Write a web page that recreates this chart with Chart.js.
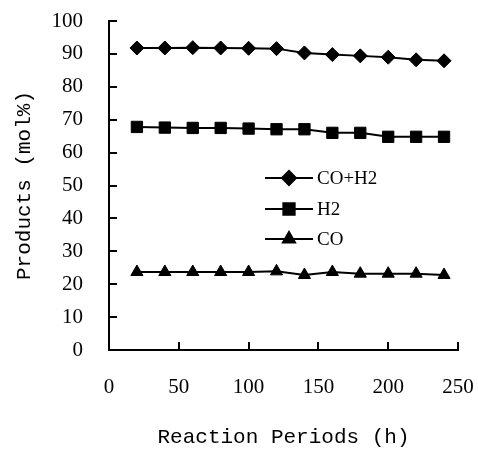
<!DOCTYPE html>
<html>
<head>
<meta charset="utf-8">
<script src="https://cdn.jsdelivr.net/npm/chart.js@4"></script>
<style>
  html, body { margin: 0; padding: 0; background: #fff; }
</style>
</head>
<body>
<canvas id="productsChart" width="478" height="450"></canvas>
<script>
// Data
let hours = [20, 40, 60, 80, 100, 120, 140, 160, 180, 200, 220, 240];
let coH2 = [91.8, 91.8, 91.9, 91.8, 91.7, 91.6, 90.3, 89.8, 89.4, 89.0, 88.2, 87.9];
let h2 = [67.8, 67.6, 67.5, 67.5, 67.3, 67.1, 67.1, 66.0, 66.0, 64.8, 64.8, 64.8];
let co = [23.7, 23.7, 23.7, 23.7, 23.7, 23.9, 22.8, 23.7, 23.2, 23.2, 23.2, 22.8];

let seriesNames = ["CO+H2", "H2", "CO"];
let xTicks = [0, 50, 100, 150, 200, 250];
let yTicks = [0, 10, 20, 30, 40, 50, 60, 70, 80, 90, 100];

function toPoints(values) {
  let pts = [];
  for (let i = 0; i < hours.length; i++) {
    pts.push({ x: hours[i], y: values[i] });
  }
  return pts;
}

// Short tick marks pointing into the plot
const innerTicks = {
  id: "innerTicks",
  afterDraw(chart) {
    const ctx = chart.ctx;
    const xs = chart.scales.x;
    const ys = chart.scales.y;
    ctx.save();
    ctx.strokeStyle = "#000";
    ctx.lineWidth = 2;
    ctx.beginPath();
    yTicks.forEach((v) => {
      const py = Math.round(ys.getPixelForValue(v));
      ctx.moveTo(xs.left, py);
      ctx.lineTo(xs.left + 8, py);
    });
    xTicks.forEach((v) => {
      const px = Math.round(xs.getPixelForValue(v));
      ctx.moveTo(px, ys.bottom);
      ctx.lineTo(px, ys.bottom - 8);
    });
    ctx.stroke();
    ctx.restore();
  },
};

// Legend sitting inside the plot area
const insideLegend = {
  id: "insideLegend",
  afterDraw(chart) {
    const ctx = chart.ctx;
    const rows = [178, 209, 239];
    ctx.save();
    chart.data.datasets.forEach((ds, i) => {
      const y = rows[i];
      ctx.strokeStyle = "#000";
      ctx.lineWidth = 2;
      ctx.beginPath();
      ctx.moveTo(265, y);
      ctx.lineTo(313, y);
      ctx.stroke();
      ctx.fillStyle = "#000";
      Chart.helpers.drawPoint(ctx, {
        pointStyle: ds.pointStyle,
        radius: ds.pointRadius,
        borderWidth: 1,
        rotation: 0,
      }, 289, y);
      ctx.fillStyle = "#000";
      ctx.font = "19px 'Liberation Serif'";
      ctx.textBaseline = "middle";
      ctx.textAlign = "left";
      ctx.fillText(ds.label, 317, y + 1);
    });
    ctx.restore();
  },
};

function lineSet(label, values, style, radius) {
  return {
    label: label,
    data: toPoints(values),
    borderColor: "#000",
    backgroundColor: "#000",
    borderWidth: 2,
    pointStyle: style,
    pointRadius: radius,
    pointHoverRadius: radius,
    pointBackgroundColor: "#000",
    pointBorderColor: "#000",
    pointBorderWidth: 1,
    tension: 0,
  };
}

new Chart(document.getElementById("productsChart"), {
  type: "line",
  data: {
    datasets: [
      lineSet(seriesNames[0], coH2, "rectRot", 7),
      lineSet(seriesNames[1], h2, "rect", 8),
      lineSet(seriesNames[2], co, "triangle", 7),
    ],
  },
  options: {
    responsive: false,
    animation: false,
    devicePixelRatio: 1,
    layout: { padding: { left: 0, top: 21, right: 20, bottom: 0 } },
    plugins: {
      legend: { display: false },
      tooltip: { enabled: false },
    },
    scales: {
      x: {
        type: "linear",
        min: 0,
        max: 250,
        afterFit(scale) {
          scale.height = 100;
          scale.paddingLeft = 0;
          scale.paddingRight = 0;
        },
        afterBuildTicks(scale) { scale.ticks = xTicks.map((v) => ({ value: v })); },
        grid: { display: true, drawOnChartArea: false, drawTicks: false },
        border: { display: true, color: "#000", width: 2 },
        ticks: {
          padding: 25,
          color: "#000",
          maxRotation: 0,
          font: { family: "'Liberation Serif'", size: 21 },
        },
        title: {
          display: true,
          text: "Reaction Periods (h)",
          color: "#000",
          padding: { top: 0, bottom: 0 },
          font: { family: "'Liberation Mono'", size: 21 },
        },
      },
      y: {
        min: 0,
        max: 100,
        afterFit(scale) {
          scale.width = 109;
          scale.paddingTop = 0;
          scale.paddingBottom = 0;
        },
        afterBuildTicks(scale) { scale.ticks = yTicks.map((v) => ({ value: v })); },
        grid: { display: true, drawOnChartArea: false, drawTicks: false },
        border: { display: true, color: "#000", width: 2 },
        ticks: {
          padding: 26,
          color: "#000",
          font: { family: "'Liberation Serif'", size: 21 },
        },
        title: {
          display: true,
          text: "Products (mol%)",
          color: "#000",
          padding: { top: 12, bottom: 0 },
          font: { family: "'Liberation Mono'", size: 21 },
        },
      },
    },
  },
  plugins: [innerTicks, insideLegend],
});
</script>
</body>
</html>
